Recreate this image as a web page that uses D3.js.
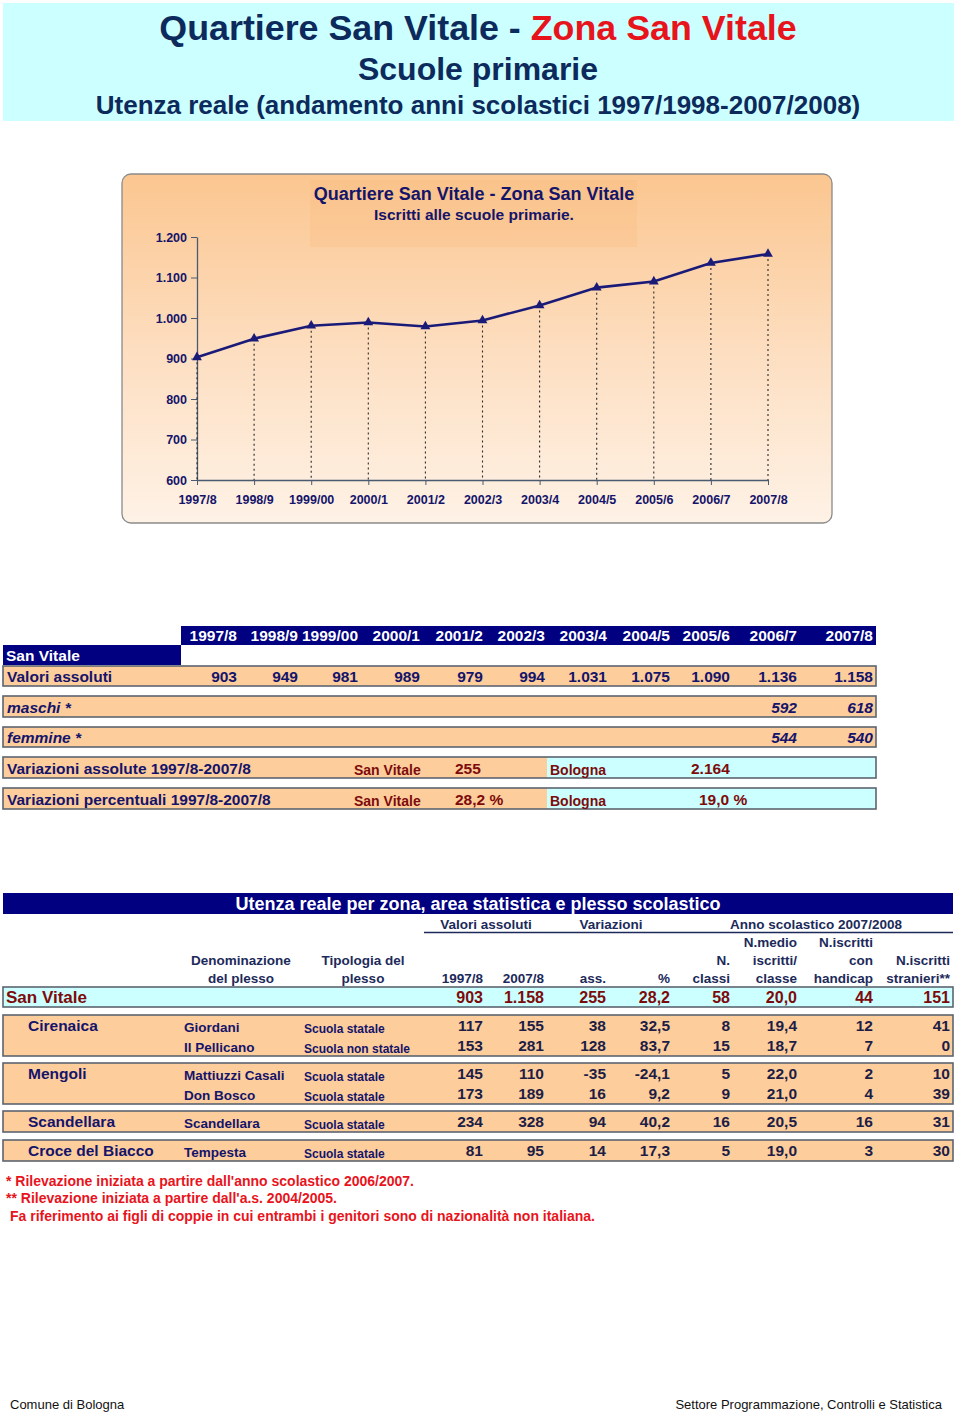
<!DOCTYPE html>
<html><head><meta charset="utf-8">
<script src="https://cdn.jsdelivr.net/npm/d3@7"></script>
<style>
html,body{margin:0;padding:0;background:#fff;}
svg{display:block;font-family:"Liberation Sans",Arial,Helvetica,sans-serif;}
</style></head>
<body>
<script>
// ---------------- DATA ----------------
const years = ["1997/8","1998/9","1999/00","2000/1","2001/2","2002/3","2003/4","2004/5","2005/6","2006/7","2007/8"];
const iscritti = [903,949,981,989,979,994,1031,1075,1090,1136,1158];
const maschi  = [null,null,null,null,null,null,null,null,null,592,618];
const femmine = [null,null,null,null,null,null,null,null,null,544,540];
const yTicks = [600,700,800,900,1000,1100,1200];
const varAssSV = 255, varAssBO = 2164, varPercSV = 28.2, varPercBO = 19.0;

const zone      = ["Cirenaica","Cirenaica","Mengoli","Mengoli","Scandellara","Croce del Biacco"];
const plessi    = ["Giordani","Il Pellicano","Mattiuzzi Casali","Don Bosco","Scandellara","Tempesta"];
const tipologia = ["Scuola statale","Scuola non statale","Scuola statale","Scuola statale","Scuola statale","Scuola statale"];
const val1997   = [117,153,145,173,234,81];
const val2007   = [155,281,110,189,328,95];
const varAss    = [38,128,-35,16,94,14];
const varPerc   = [32.5,83.7,-24.1,9.2,40.2,17.3];
const nClassi   = [8,15,5,9,16,5];
const medioCl   = [19.4,18.7,22.0,21.0,20.5,19.0];
const handicap  = [12,7,2,4,16,3];
const stranieri = [41,0,10,39,31,30];
const totaleSV  = [903,1158,255,28.2,58,20.0,44,151];

// ---------------- SETUP ----------------
const it = d3.formatLocale({decimal:",",thousands:".",grouping:[3],currency:["","€"],minus:"-"});
const fInt = it.format(",d"), f1 = it.format(",.1f");
const NAVY="#14146a", DNAVY="#0c2a5c", HDR="#000080", PEACH="#fdcd9c", CYAN="#ccffff", DRED="#7d0b0b", RED="#e8141c";

const svg = d3.select("body").append("svg").attr("width",960).attr("height",1413);
svg.append("rect").attr("width",960).attr("height",1413).attr("fill","#fff");

// ---------------- TITLE BANNER ----------------
svg.append("rect").attr("x",3).attr("y",3).attr("width",951).attr("height",118).attr("fill",CYAN);
const t1 = svg.append("text").attr("x",478).attr("y",40).attr("text-anchor","middle")
  .attr("font-size",35.8).attr("font-weight","bold").attr("fill",DNAVY);
t1.append("tspan").text("Quartiere San Vitale - ");
t1.append("tspan").attr("fill",RED).text("Zona San Vitale");
svg.append("text").attr("x",478).attr("y",80).attr("text-anchor","middle")
  .attr("font-size",32).attr("font-weight","bold").attr("fill",DNAVY).text("Scuole primarie");
svg.append("text").attr("x",478).attr("y",114).attr("text-anchor","middle")
  .attr("font-size",26).attr("font-weight","bold").attr("fill",DNAVY)
  .text("Utenza reale (andamento anni scolastici 1997/1998-2007/2008)");

// ---------------- CHART ----------------
const defs = svg.append("defs");
const grad = defs.append("linearGradient").attr("id","bg").attr("x1",0).attr("y1",0).attr("x2",0).attr("y2",1);
grad.append("stop").attr("offset","0%").attr("stop-color","#fbc690");
grad.append("stop").attr("offset","55%").attr("stop-color","#fde0c4");
grad.append("stop").attr("offset","100%").attr("stop-color","#fef2e6");
svg.append("rect").attr("x",122).attr("y",174).attr("width",710).attr("height",349).attr("rx",9)
  .attr("fill","url(#bg)").attr("stroke","#8a8a8a").attr("stroke-width",1.3);
svg.append("rect").attr("x",310).attr("y",180).attr("width",327).attr("height",67)
  .attr("fill","#f8b877").attr("opacity",0.25);
svg.append("text").attr("x",474).attr("y",200).attr("text-anchor","middle").attr("font-size",18)
  .attr("font-weight","bold").attr("fill",NAVY).text("Quartiere San Vitale - Zona San Vitale");
svg.append("text").attr("x",474).attr("y",220).attr("text-anchor","middle").attr("font-size",15.5)
  .attr("font-weight","bold").attr("fill",NAVY).text("Iscritti alle scuole primarie.");

const x = d3.scalePoint().domain(years).range([197,768]);
const y = d3.scaleLinear().domain([600,1200]).range([480,237]);

const gy = svg.append("g").attr("transform","translate(197,0)")
  .call(d3.axisLeft(y).tickValues(yTicks).tickSize(6).tickSizeOuter(0).tickPadding(4).tickFormat(fInt));
const gx = svg.append("g").attr("transform","translate(0,480)")
  .call(d3.axisBottom(x).tickSize(5).tickSizeOuter(0).tickPadding(10));
[gy,gx].forEach(g=>{
  g.select(".domain").attr("stroke","#4a5a70").attr("stroke-width",1.3);
  g.selectAll(".tick line").attr("stroke","#4a5a70");
  g.selectAll("text").attr("fill",NAVY).attr("font-size",12.5).attr("font-weight","bold")
   .attr("font-family","Liberation Sans, Arial, sans-serif");
});

svg.append("g").selectAll("line").data(iscritti).join("line")
  .attr("x1",(d,i)=>x(years[i])).attr("x2",(d,i)=>x(years[i]))
  .attr("y1",d=>y(d)).attr("y2",y(600))
  .attr("stroke","#2a2a2a").attr("stroke-width",1.1).attr("stroke-dasharray","2,3");

svg.append("path").datum(iscritti)
  .attr("d",d3.line().x((d,i)=>x(years[i])).y(d=>y(d)))
  .attr("fill","none").attr("stroke","#1a1a78").attr("stroke-width",2.6);
svg.append("g").selectAll("path").data(iscritti).join("path")
  .attr("transform",(d,i)=>`translate(${x(years[i])},${y(d)})`)
  .attr("d",d3.symbol(d3.symbolTriangle,42)).attr("fill","#1a1a78");

// ---------------- TABLE 1 ----------------
const colR1 = [237,298,358,420,483,545,607,670,730,797,873];
const FS1 = 15.5;
svg.append("rect").attr("x",181).attr("y",626).attr("width",695).attr("height",19).attr("fill",HDR);
svg.append("g").selectAll("text").data(years).join("text")
  .attr("x",(d,i)=>colR1[i]).attr("y",641).attr("text-anchor","end").attr("font-size",FS1)
  .attr("font-weight","bold").attr("fill","#fff").text(d=>d);
svg.append("rect").attr("x",3).attr("y",645).attr("width",178).attr("height",20).attr("fill",HDR);
svg.append("text").attr("x",6).attr("y",661).attr("font-size",FS1).attr("font-weight","bold")
  .attr("fill","#fff").text("San Vitale");

function rowBox(y0,h,split){
  if(split){
    svg.append("rect").attr("x",3).attr("y",y0).attr("width",split-3).attr("height",h).attr("fill",PEACH);
    svg.append("rect").attr("x",split).attr("y",y0).attr("width",876-split).attr("height",h).attr("fill",CYAN);
    svg.append("rect").attr("x",3).attr("y",y0).attr("width",873).attr("height",h).attr("fill","none")
      .attr("stroke","#5d6470").attr("stroke-width",1.6);
  } else {
    svg.append("rect").attr("x",3).attr("y",y0).attr("width",873).attr("height",h).attr("fill",PEACH)
      .attr("stroke","#5d6470").attr("stroke-width",1.6);
  }
}
rowBox(666,20); rowBox(696,21); rowBox(727,20); rowBox(757,21,547); rowBox(788,21,547);

svg.append("text").attr("x",7).attr("y",682).attr("font-size",FS1).attr("font-weight","bold")
  .attr("fill",NAVY).text("Valori assoluti");
svg.append("g").selectAll("text").data(iscritti).join("text")
  .attr("x",(d,i)=>colR1[i]).attr("y",682).attr("text-anchor","end").attr("font-size",FS1)
  .attr("font-weight","bold").attr("fill",NAVY).text(d=>fInt(d));

[[maschi,"maschi *",713],[femmine,"femmine *",743]].forEach(([arr,lab,yy])=>{
  svg.append("text").attr("x",7).attr("y",yy).attr("font-size",FS1).attr("font-weight","bold")
    .attr("font-style","italic").attr("fill",NAVY).text(lab);
  svg.append("g").selectAll("text").data(arr.map((v,i)=>({v,i})).filter(d=>d.v!=null)).join("text")
    .attr("x",d=>colR1[d.i]).attr("y",yy).attr("text-anchor","end").attr("font-size",FS1)
    .attr("font-weight","bold").attr("font-style","italic").attr("fill",NAVY).text(d=>fInt(d.v));
});

function varRow(yy,label,sv,bo){
  svg.append("text").attr("x",7).attr("y",yy).attr("font-size",FS1).attr("font-weight","bold")
    .attr("fill",NAVY).text(label);
  svg.append("text").attr("x",354).attr("y",yy+1).attr("font-size",14).attr("font-weight","bold")
    .attr("fill",DRED).text("San Vitale");
  svg.append("text").attr("x",455).attr("y",yy).attr("font-size",FS1).attr("font-weight","bold")
    .attr("fill",DRED).text(sv);
  svg.append("text").attr("x",550).attr("y",yy+1).attr("font-size",14).attr("font-weight","bold")
    .attr("fill",DRED).text("Bologna");
  svg.append("text").attr("x",bo[1]).attr("y",yy).attr("font-size",FS1).attr("font-weight","bold")
    .attr("fill",DRED).text(bo[0]);
}
varRow(774,"Variazioni assolute 1997/8-2007/8",fInt(varAssSV),[fInt(varAssBO),691]);
varRow(805,"Variazioni percentuali 1997/8-2007/8",f1(varPercSV)+" %",[f1(varPercBO)+" %",699]);

// ---------------- TABLE 2 ----------------
const colR2 = [483,544,606,670,730,797,873,950];
svg.append("rect").attr("x",3).attr("y",893).attr("width",950).attr("height",21).attr("fill",HDR);
svg.append("text").attr("x",478).attr("y",910).attr("text-anchor","middle").attr("font-size",18)
  .attr("font-weight","bold").attr("fill","#fff")
  .text("Utenza reale per zona, area statistica e plesso scolastico");

const HC = "#1c2a5a", HF = 13.5;
function htxt(xx,yy,t,anchor){
  svg.append("text").attr("x",xx).attr("y",yy).attr("text-anchor",anchor||"end").attr("font-size",HF)
    .attr("font-weight","bold").attr("fill",HC).text(t);
}
htxt(486,929,"Valori assoluti","middle");
htxt(611,929,"Variazioni","middle");
htxt(816,929,"Anno scolastico 2007/2008","middle");
svg.append("line").attr("x1",424).attr("x2",953).attr("y1",932.5).attr("y2",932.5)
  .attr("stroke",HC).attr("stroke-width",1.5);
htxt(241,965,"Denominazione","middle"); htxt(241,983,"del plesso","middle");
htxt(363,965,"Tipologia del","middle"); htxt(363,983,"plesso","middle");
const h3 = ["1997/8","2007/8","ass.","%","classi","classe","handicap","stranieri**"];
h3.forEach((t,i)=>htxt(colR2[i],983,t));
htxt(colR2[4],965,"N."); htxt(colR2[5],965,"iscritti/"); htxt(colR2[6],965,"con"); htxt(colR2[7],965,"N.iscritti");
htxt(colR2[5],947,"N.medio"); htxt(colR2[6],947,"N.iscritti");

// San Vitale total row
svg.append("rect").attr("x",3).attr("y",987).attr("width",950).attr("height",20).attr("fill",CYAN)
  .attr("stroke","#5d6470").attr("stroke-width",1.6);
svg.append("text").attr("x",6).attr("y",1003).attr("font-size",17).attr("font-weight","bold")
  .attr("fill",DRED).text("San Vitale");
const fmtCols = [fInt,fInt,fInt,f1,fInt,f1,fInt,fInt];
svg.append("g").selectAll("text").data(totaleSV).join("text")
  .attr("x",(d,i)=>colR2[i]).attr("y",1003).attr("text-anchor","end").attr("font-size",16)
  .attr("font-weight","bold").attr("fill",DRED).text((d,i)=>fmtCols[i](d));

// plesso rows grouped by zona
const groups = Array.from(d3.group(plessi.map((p,i)=>i), i=>zone[i]));
let yb = 1031;
const rowCols = [val1997,val2007,varAss,varPerc,nClassi,medioCl,handicap,stranieri];
groups.forEach(([zn,idx])=>{
  const top = yb-16, bot = yb + (idx.length-1)*20 + 5;
  svg.append("rect").attr("x",3).attr("y",top).attr("width",950).attr("height",bot-top).attr("fill",PEACH)
    .attr("stroke","#5d6470").attr("stroke-width",1.6);
  svg.append("text").attr("x",28).attr("y",yb).attr("font-size",15.5).attr("font-weight","bold")
    .attr("fill",NAVY).text(zn);
  idx.forEach((i,k)=>{
    const yy = yb + k*20;
    svg.append("text").attr("x",184).attr("y",yy+1).attr("font-size",13.5).attr("font-weight","bold")
      .attr("fill",NAVY).text(plessi[i]);
    svg.append("text").attr("x",304).attr("y",yy+2).attr("font-size",12).attr("font-weight","bold")
      .attr("fill",NAVY).text(tipologia[i]);
    rowCols.forEach((arr,c)=>{
      svg.append("text").attr("x",colR2[c]).attr("y",yy).attr("text-anchor","end").attr("font-size",15.5)
        .attr("font-weight","bold").attr("fill","#1d1d45").text(fmtCols[c](arr[i]));
    });
  });
  yb = bot + 16 + 8 - 1 + (idx.length===1 && zn==="Scandellara" ? 1 : 0);
});

// footnotes
const notes = [["* Rilevazione iniziata a partire dall'anno scolastico 2006/2007.",6,1186],
               ["** Rilevazione iniziata a partire dall'a.s. 2004/2005.",6,1203],
               [" Fa riferimento ai figli di coppie in cui entrambi i genitori sono di nazionalità non italiana.",10,1221]];
svg.append("g").selectAll("text").data(notes).join("text")
  .attr("x",d=>d[1]).attr("y",d=>d[2]).attr("font-size",14).attr("font-weight","bold")
  .attr("fill",RED).text(d=>d[0]);

// footer
svg.append("text").attr("x",10).attr("y",1409).attr("font-size",13).attr("fill","#111").text("Comune di Bologna");
svg.append("text").attr("x",942).attr("y",1409).attr("text-anchor","end").attr("font-size",13).attr("fill","#111")
  .text("Settore Programmazione, Controlli e Statistica");
</script>
</body></html>
